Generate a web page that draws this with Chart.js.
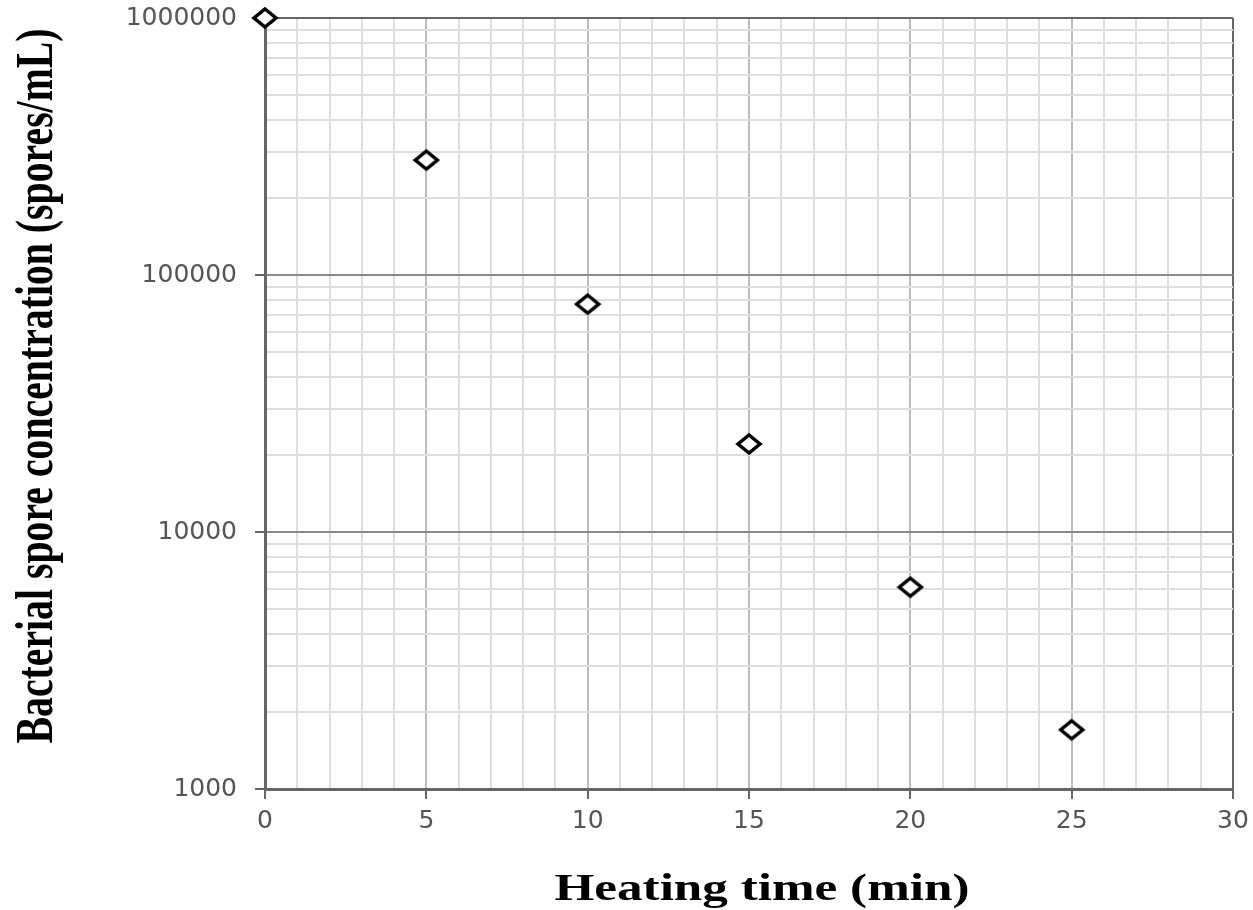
<!DOCTYPE html>
<html>
<head>
<meta charset="utf-8">
<script src="https://cdn.jsdelivr.net/npm/chart.js@4/dist/chart.umd.min.js"></script>
<style>
  html, body { margin: 0; padding: 0; background: #fff; }
  #wrap { width: 1253px; height: 910px; position: relative; }
</style>
</head>
<body>
<div id="wrap"><canvas id="c" width="1253" height="910"></canvas></div>
<script>
// ---- data ----
const heatingTime = [0, 5, 10, 15, 20, 25];
const sporeConcentration = [1000000, 280000, 77000, 22000, 6100, 1700];
const xTickLabels = [0, 5, 10, 15, 20, 25, 30];
const yTickLabels = [1000, 10000, 100000, 1000000];
const xTitle = 'Heating time (min)';
const yTitle = 'Bacterial spore concentration (spores/mL)';

// ---- marker: flattened open diamond ----
function makeDiamond() {
  const c = document.createElement('canvas');
  c.width = 28; c.height = 24;
  const g = c.getContext('2d');
  g.beginPath();
  g.moveTo(14, 3); g.lineTo(25, 12); g.lineTo(14, 21); g.lineTo(3, 12); g.closePath();
  g.fillStyle = '#fff'; g.fill();
  g.lineWidth = 3.5; g.strokeStyle = '#000'; g.lineJoin = 'miter'; g.stroke();
  return c;
}

const xMin = xTickLabels[0], xMax = xTickLabels[xTickLabels.length - 1];
const yMin = yTickLabels[0], yMax = yTickLabels[yTickLabels.length - 1];

const titlePlugin = {
  id: 'titles',
  afterDraw(chart) {
    const ctx = chart.ctx;
    // x title
    ctx.save();
    ctx.fillStyle = '#000';
    ctx.font = 'bold 37px "Liberation Serif"';
    let w = ctx.measureText(xTitle).width;
    ctx.translate(762, 900);
    ctx.scale(415 / w, 1);
    ctx.textAlign = 'center';
    ctx.textBaseline = 'alphabetic';
    ctx.fillText(xTitle, 0, 0);
    ctx.restore();
    // y title (rotated, compressed along its length)
    ctx.save();
    ctx.fillStyle = '#000';
    ctx.font = 'bold 53px "Liberation Serif"';
    w = ctx.measureText(yTitle).width;
    ctx.translate(52, 386);
    ctx.rotate(-Math.PI / 2);
    ctx.scale(715 / w, 1);
    ctx.textAlign = 'center';
    ctx.textBaseline = 'alphabetic';
    ctx.fillText(yTitle, 0, 0);
    ctx.restore();
  }
};

new Chart(document.getElementById('c'), {
  type: 'scatter',
  data: {
    datasets: [{
      data: heatingTime.map((t, i) => ({ x: t, y: sporeConcentration[i] })),
      pointStyle: makeDiamond(),
      clip: false
    }]
  },
  options: {
    responsive: false,
    animation: false,
    layout: { padding: { top: 18, right: 20, left: 0, bottom: 0 } },
    plugins: { legend: { display: false }, tooltip: { enabled: false } },
    scales: {
      x: {
        type: 'linear',
        min: xMin, max: xMax,
        afterBuildTicks(scale) {
          const t = [];
          for (let v = xMin; v <= xMax; v++) t.push({ value: v });
          scale.ticks = t;
        },
        afterFit(scale) {
          scale.height = 121;
          scale.paddingLeft = 0; scale.paddingRight = 0;
        },
        ticks: {
          autoSkip: false, maxRotation: 0,
          padding: 7,
          font: { family: 'DejaVu Sans', size: 25 },
          color: '#555',
          callback: (v) => xTickLabels.includes(v) ? String(v) : ''
        },
        grid: {
          lineWidth: 2,
          tickLength: 10,
          color: (ctx) => {
            const v = ctx.tick && ctx.tick.value;
            if (v === xMax) return '#666';
            if (xTickLabels.includes(v)) return '#bcbcbc';
            return '#dedede';
          },
          tickColor: (ctx) => {
            const v = ctx.tick && ctx.tick.value;
            return xTickLabels.includes(v) ? '#666' : 'rgba(0,0,0,0)';
          }
        },
        border: { display: true, color: '#666', width: 3 }
      },
      y: {
        type: 'logarithmic',
        min: yMin, max: yMax,
        afterBuildTicks(scale) {
          const t = [];
          for (let d = yMin; d < yMax; d *= 10) {
            for (let k = 1; k < 10; k++) t.push({ value: d * k });
          }
          t.push({ value: yMax });
          scale.ticks = t;
        },
        afterFit(scale) {
          scale.width = 265;
          scale.paddingTop = 0; scale.paddingBottom = 0;
        },
        ticks: {
          autoSkip: false,
          padding: 18,
          font: { family: 'DejaVu Sans', size: 25 },
          color: '#555',
          callback: (v) => yTickLabels.includes(v) ? String(v) : ''
        },
        grid: {
          lineWidth: 2,
          tickLength: 10,
          color: (ctx) => {
            const v = ctx.tick && ctx.tick.value;
            if (v === yMax) return '#666';
            if (yTickLabels.includes(v)) return '#8a8a8a';
            return '#dedede';
          },
          tickColor: (ctx) => {
            const v = ctx.tick && ctx.tick.value;
            return yTickLabels.includes(v) ? '#666' : 'rgba(0,0,0,0)';
          }
        },
        border: { display: true, color: '#666', width: 3 }
      }
    }
  },
  plugins: [titlePlugin]
});
</script>
</body>
</html>
